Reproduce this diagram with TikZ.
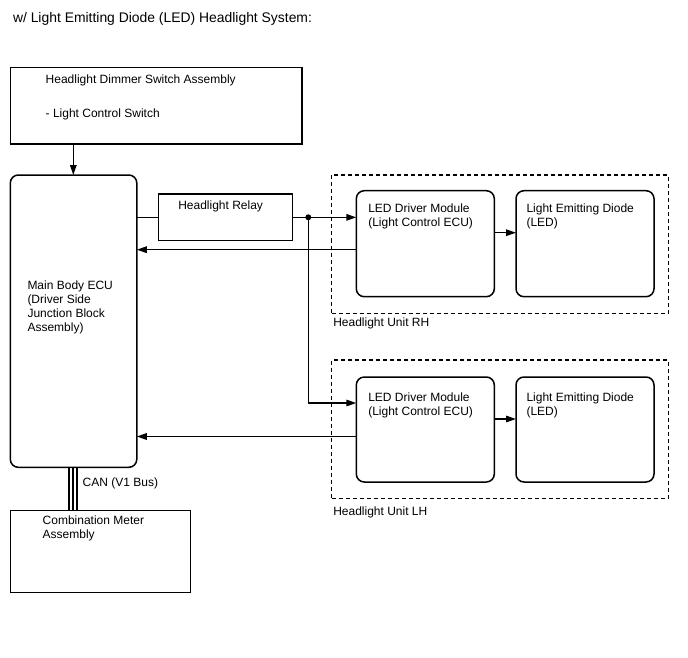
\documentclass[tikz,border=0pt]{standalone}
\usepackage{fontspec}
\setmainfont{Liberation Sans}
\usetikzlibrary{arrows.meta,calc}
\begin{document}
\begin{tikzpicture}[x=1pt,y=-1pt,
  line width=1.5pt,
  every node/.style={font=\fontsize{12}{14}\selectfont},
  box/.style={draw,inner sep=0pt,outer sep=0pt,anchor=north west},
  rbox/.style={box,rounded corners=8pt},
  unit/.style={draw,inner sep=0pt,outer sep=0pt,anchor=north west,dash pattern=on 4pt off 3pt},
  txt/.style={inner sep=0pt,outer sep=0pt,anchor=base west,align=left},
  arr/.style={-{Triangle[length=10pt,width=6.5pt]}},
  dot/.style={circle,fill,inner sep=0pt,minimum size=6pt}]
\useasboundingbox (0,0) rectangle (688,658);
% title
\node[txt,font=\fontsize{13.9}{16}\selectfont] (title) at (13,22.7) {w/ Light Emitting Diode (LED) Headlight System:};
% dimmer switch
\node[box,minimum width=291.5pt,minimum height=76.5pt] (dim) at (10.7,67.7) {};
\node[txt] (dimt) at (45.7,84) {Headlight Dimmer Switch Assembly};
\node[txt] (dims) at (45.7,118) {- Light Control Switch};
% main body ECU
\node[rbox,minimum width=126.5pt,minimum height=292.3pt] (ecu) at (10.3,175) {};
\node[txt] (ecut) at (27.5,331) {Main Body ECU\\(Driver Side\\Junction Block\\Assembly)};
% relay
\node[box,minimum width=134pt,minimum height=46.7pt] (relay) at (158.3,194) {};
\node[txt] (relayt) at (178.3,209.3) {Headlight Relay};
% combination meter
\node[box,minimum width=180pt,minimum height=82pt] (meter) at (10.7,510.7) {};
\node[txt] (metert) at (42.7,538.7) {Combination Meter\\Assembly};
\node[txt] (can) at (82.7,486) {CAN (V1 Bus)};
% RH unit
\node[unit,minimum width=336.6pt,minimum height=138.3pt] (unitR) at (331.7,175) {};
\node[txt] (unitRt) at (333.3,326.7) {Headlight Unit RH};
\node[rbox,minimum width=138pt,minimum height=106pt] (drvR) at (356.3,190.7) {};
\node[txt] (drvRt) at (368.3,226) {LED Driver Module\\(Light Control ECU)};
\node[rbox,minimum width=138pt,minimum height=106pt] (ledR) at (516,190.7) {};
\node[txt] (ledRt) at (526.5,226) {Light Emitting Diode\\(LED)};
% LH unit
\node[unit,minimum width=336.6pt,minimum height=138.3pt] (unitL) at (331.7,360) {};
\node[txt] (unitLt) at (333.3,515) {Headlight Unit LH};
\node[rbox,minimum width=138pt,minimum height=105pt] (drvL) at (356.3,377) {};
\node[txt] (drvLt) at (368.3,415.7) {LED Driver Module\\(Light Control ECU)};
\node[rbox,minimum width=138pt,minimum height=105pt] (ledL) at (516,377) {};
\node[txt] (ledLt) at (526.5,415.7) {Light Emitting Diode\\(LED)};
% connectors
\coordinate (sw) at (73.3,0);
\draw[arr] (dim.south -| sw) -- (ecu.north -| sw);
\draw (ecu.east |- relay.west) -- (relay.west);
\coordinate (j) at (308.3,217.3);
\draw[arr] (relay.east) -- (relay.east -| drvR.west);
\node[dot] (jd) at (j) {};
\coordinate (lhin) at ($(drvL.north west)+(0,26)$);
\draw[arr] (j) |- (lhin);
\coordinate (rhret) at ($(drvR.north west)+(0,59)$);
\draw[arr] (rhret) -- (rhret -| ecu.east);
\coordinate (lhret) at ($(drvL.north west)+(0,59.5)$);
\draw[arr] (lhret) -- (lhret -| ecu.east);
\coordinate (rhled) at ($(drvR.north east)+(0,42)$);
\draw[arr] (rhled) -- (rhled -| ledR.west);
\coordinate (lhled) at ($(drvL.north east)+(0,42)$);
\draw[arr] (lhled) -- (lhled -| ledL.west);
% CAN bus triple line
\foreach \cx in {69.2,73.2,77} {
  \coordinate (c) at (\cx,0);
  \draw[line width=1.7pt] (ecu.south -| c) -- (meter.north -| c);
}
\end{tikzpicture}
\end{document}
